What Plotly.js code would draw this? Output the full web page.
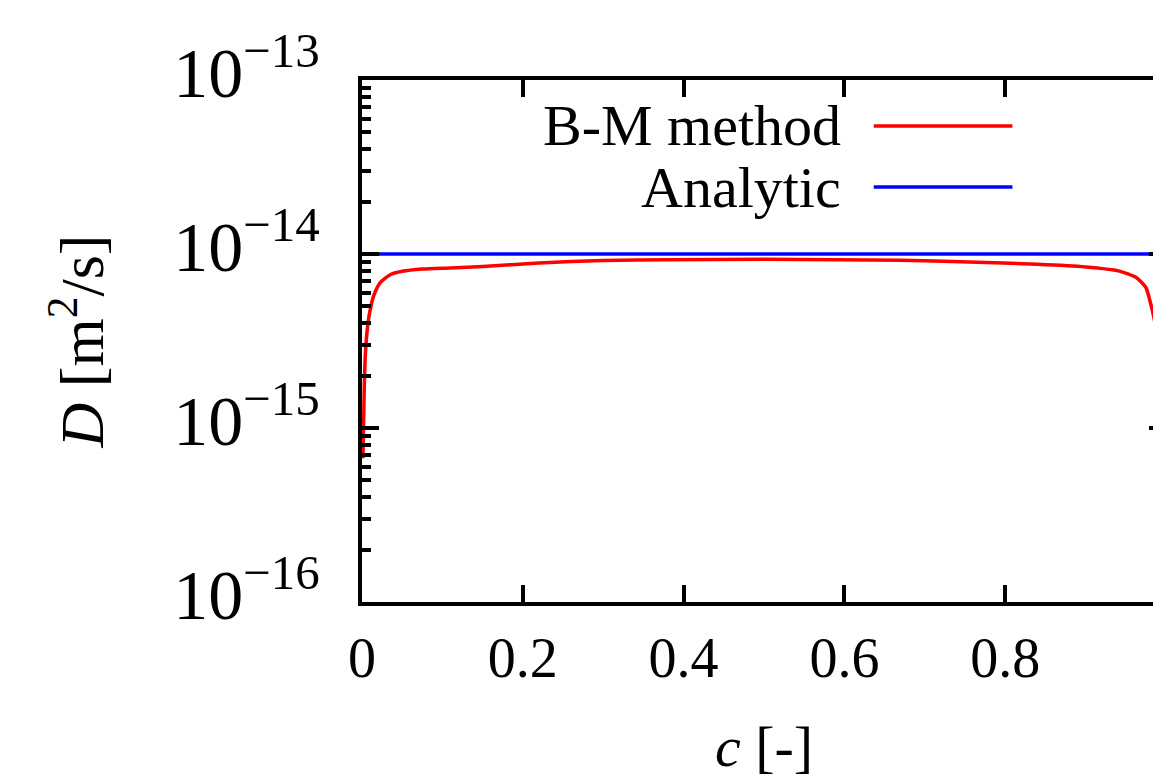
<!DOCTYPE html>
<html>
<head>
<meta charset="utf-8">
<script src="https://cdn.plot.ly/plotly-3.0.1.min.js"></script>
<style>
html, body { margin: 0; padding: 0; overflow: hidden; background: #fff; }
#chart { width: 1196px; height: 782px; }
</style>
</head>
<body>
<div id="chart"></div>
<script>
// ---- data ----
const seriesNames = ["B-M method", "Analytic"];
const cBM = [0.0012, 0.0021, 0.0029, 0.0041, 0.0062, 0.0095, 0.0145, 0.0227, 0.035, 0.05,
             0.075, 0.11, 0.15, 0.22, 0.30, 0.38, 0.5, 0.59, 0.67, 0.755,
             0.84, 0.9, 0.941, 0.963, 0.975, 0.98, 0.985, 0.99, 0.995, 0.9988];
const DBM = [6.7e-16, 1.14e-15, 1.76e-15, 2.6e-15, 3.55e-15, 4.6e-15, 5.75e-15, 6.85e-15, 7.6e-15, 7.95e-15,
             8.2e-15, 8.32e-15, 8.48e-15, 8.88e-15, 9.18e-15, 9.27e-15, 9.33e-15, 9.28e-15, 9.2e-15, 9.0e-15,
             8.73e-15, 8.43e-15, 8.0e-15, 7.32e-15, 6.42e-15, 5.39e-15, 4.3e-15, 3.1e-15, 1.8e-15, 6.7e-16];
const cAn = [0, 1];
const DAn = [1e-14, 1e-14];
const xTicks = [0, 0.2, 0.4, 0.6, 0.8];
const xTickText = ["0", "0.2", "0.4", "0.6", "0.8"];
const yDecades = [-16, -13];

const FONT = "Liberation Serif, Times New Roman, serif";
const FS = 56;

const traces = [
  { x: cBM, y: DBM, name: seriesNames[0], type: "scatter", mode: "lines",
    line: { color: "#ff0000", width: 3.5, shape: "spline", smoothing: 0.6 }, showlegend: false },
  { x: cAn, y: DAn, name: seriesNames[1], type: "scatter", mode: "lines",
    line: { color: "#0000ff", width: 3.5 }, showlegend: false }
];

const legY = [0.912, 0.795];
const legColors = ["#ff0000", "#0000ff"];

const layout = {
  width: 1196, height: 782,
  margin: { l: 362, r: 30, t: 80, b: 180 },
  paper_bgcolor: "#fff", plot_bgcolor: "#fff",
  font: { family: FONT, size: FS, color: "#000" },
  showlegend: false,
  xaxis: {
    range: [0, 1], tickvals: xTicks, ticktext: xTickText,
    ticks: "inside", ticklen: 17, tickwidth: 4, tickcolor: "#000",
    showline: true, linewidth: 4, linecolor: "#000", mirror: "allticks",
    showgrid: false, zeroline: false,
    tickfont: { family: FONT, size: FS },
    ticklabelstandoff: 4,
    title: { text: "<i>c</i> [-]", font: { family: FONT, size: 58 }, standoff: 38 }
  },
  yaxis: {
    type: "log", range: yDecades, dtick: 1, exponentformat: "power",
    ticks: "inside", ticklen: 17, tickwidth: 4, tickcolor: "#000",
    minor: { ticks: "inside", ticklen: 9, tickwidth: 4, tickcolor: "#000", dtick: "D1", showgrid: false },
    showline: true, linewidth: 4, linecolor: "#000", mirror: "allticks",
    showgrid: false, zeroline: false,
    tickfont: { family: FONT, size: FS },
    ticklabelstandoff: 27, ticklabelshift: -8,
    title: { text: "<i>D</i> [m<sup>2</sup>/s]", font: { family: FONT, size: 62 }, standoff: 50 }
  },
  annotations: seriesNames.map((n, i) => ({
    xref: "paper", yref: "paper", x: 0.5985, y: legY[i],
    xanchor: "right", yanchor: "middle", showarrow: false,
    text: n, font: { family: FONT, size: 58, color: "#000" }
  })),
  shapes: seriesNames.map((n, i) => ({
    type: "line", xref: "paper", yref: "paper",
    x0: 0.6365, x1: 0.809, y0: legY[i], y1: legY[i],
    line: { color: legColors[i], width: 3.5 }
  }))
};

Plotly.newPlot("chart", traces, layout, { displayModeBar: false, staticPlot: true });
</script>
</body>
</html>
